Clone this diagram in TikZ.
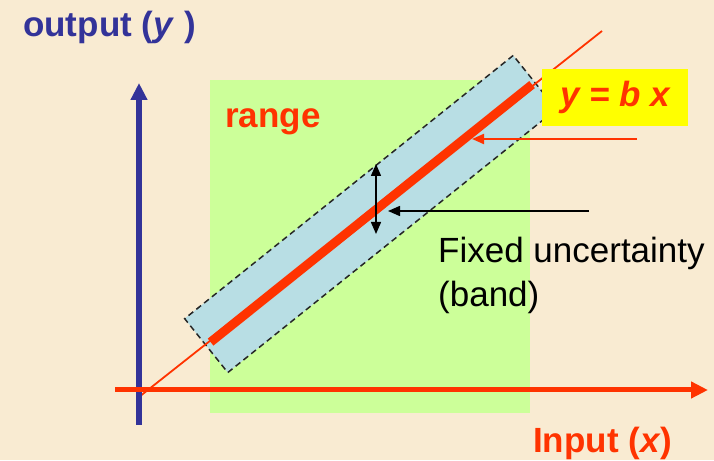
\documentclass[tikz,border=0pt]{standalone}
\usepackage{fontspec}
\setmainfont{Liberation Sans}
\usetikzlibrary{arrows.meta,positioning,calc}
\definecolor{axblue}{HTML}{333399}
\definecolor{lred}{HTML}{FF3300}
\definecolor{rangegreen}{HTML}{CCFF99}
\definecolor{bandblue}{HTML}{B8DEE4}
\definecolor{bgbeige}{HTML}{F9EBD2}
\definecolor{eqyellow}{HTML}{FFFF00}
\newcommand{\lblsize}{\fontsize{35}{44}\selectfont}
\tikzset{
  axisline/.style={-{Triangle[length=17pt,width=16pt]}, line width=#1},
  rangebox/.style={rectangle, fill=rangegreen, draw=none, inner sep=0pt},
  bandbox/.style={rectangle, fill=bandblue, draw=black!85, line width=1.5pt,
                  dash pattern=on 6pt off 4pt, inner sep=0pt},
  fitline/.style={draw=lred, line width=9pt},
  thinline/.style={draw=lred, line width=1.8pt},
  lbl/.style={anchor=base west, inner sep=0pt, font=\lblsize, text=#1},
  eqbox/.style={rectangle, fill=eqyellow, inner sep=0pt, text=lred,
                font=\lblsize\bfseries\itshape},
  ptr/.style={-{Triangle[length=12pt,width=10pt]}, line width=#1},
}

\begin{document}
\begin{tikzpicture}[x=1pt, y=1pt]
    \useasboundingbox (0,0) rectangle (714,460);
    \fill[bgbeige] (0,0) rectangle (714,460);
    \node[rangebox, minimum width=320pt, minimum height=333pt, anchor=south west]
      (range) at (210,47) {};
    \node[bandbox, rotate=38.7, minimum width=421pt, minimum height=69pt]
      (band) at (370.5,246) {};
    \draw[fitline] ($(band.west)!0.015!(band.east)$) -- ($(band.west)!0.99!(band.east)$);
    \coordinate (o) at (139,63);
    \draw[thinline] (o) -- ($(o)!2!(band.center)$);
    \coordinate (ybot) at (139,35);
    \coordinate (ytop) at (139,377);
    \coordinate (xleft) at (115,70);
    \coordinate (xright) at (708,70);
    \draw[axisline=6pt, draw=axblue, fill=axblue] (ybot) -- (ytop);
    \draw[axisline=5pt, draw=lred, fill=lred] (xleft) -- (xright);
    \node[eqbox, minimum width=146pt, minimum height=57pt] (eq) at (615,362.5)
      {y = b x};
    \node[lbl=axblue] (ylbl) at (23,423) {\bfseries output (\textit{y} )};
    \node[lbl=lred] (rangelbl) at (225,332) {\bfseries range};
    \node[lbl=lred] (xlbl) at (533,8) {\bfseries Input (\textit{x})};
    \node[lbl=black] (fix1) at (438,197) {Fixed uncertainty};
    \node[lbl=black] (fix2) at (438,153) {(band)};
    \coordinate (fitfrom) at (637,321);
    \coordinate (fitpt) at (472,321);
    \draw[ptr=2pt, draw=lred, fill=lred] (fitfrom) -- (fitpt);
    \coordinate (bandfrom) at (589,249);
    \coordinate (bandpt) at (388,249);
    \draw[ptr=1.5pt] (bandfrom) -- (bandpt);
    \coordinate (bandlo) at (376,226);
    \coordinate (bandhi) at (376,296);
    \draw[ptr=1.5pt, {Triangle[length=12pt,width=10pt]}-{Triangle[length=12pt,width=10pt]}]
      (bandlo) -- (bandhi);
  \end{tikzpicture}
\end{document}
